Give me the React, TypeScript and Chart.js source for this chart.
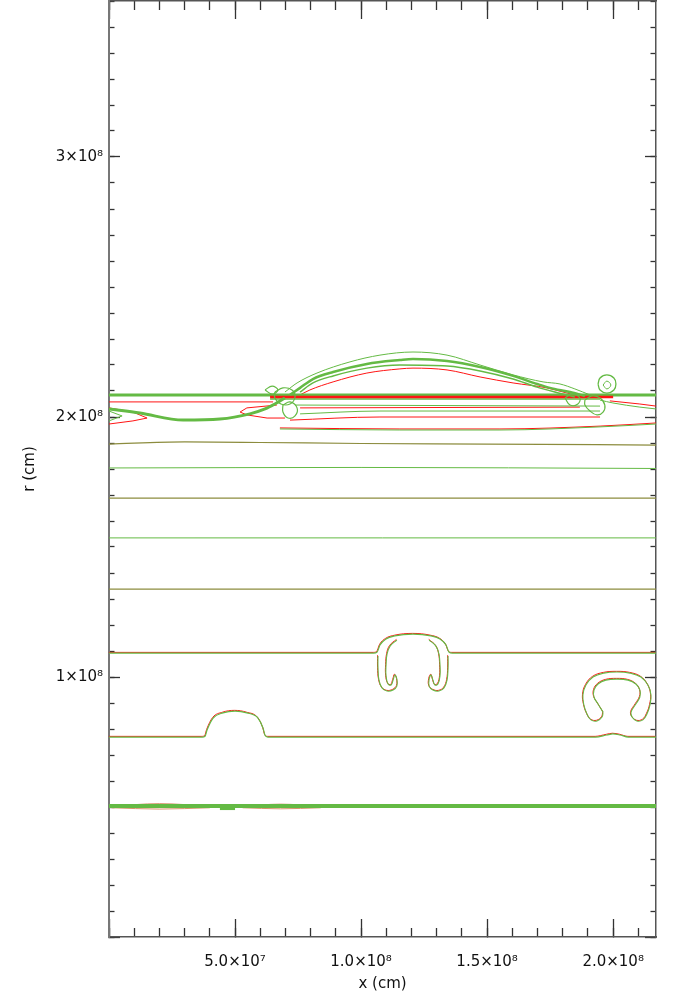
import React, { useEffect, useRef } from 'react';
import { Chart, registerables } from 'chart.js';

Chart.register(...registerables);

type Pt = [number, number];

// ---- axes (values in units of 1e8 cm) ----
const UNIT = 1e8;
const X_MAX = 2.17;
const Y_MAX = 3.6;
const X_MINOR = 0.1;
const Y_MINOR = 0.1;
const X_MAJOR_TICKS = [0, 0.5, 1.0, 1.5, 2.0];
const Y_MAJOR_TICKS = [0, 1, 2, 3];
const X_TICK_VALUES = [0.5, 1.0, 1.5, 2.0];
const X_TICK_LABELS = ['5.0×10⁷', '1.0×10⁸', '1.5×10⁸', '2.0×10⁸'];
const Y_TICK_VALUES = [1, 2, 3];
const Y_TICK_LABELS = ['1×10⁸', '2×10⁸', '3×10⁸'];
const X_TITLE = 'x (cm)';
const Y_TITLE = 'r (cm)';

// ---- contour lines [x, r] in units of 1e8 cm ----
const lvl190: Pt[] = [[0, 1.896], [0.3, 1.904], [0.6, 1.902], [1.0, 1.898], [1.5, 1.896], [2.17, 1.892]];
const lvl180: Pt[] = [[0, 1.804], [1.0, 1.806], [2.17, 1.802]];
const lvl169: Pt[] = [[0, 1.688], [2.17, 1.688]];
const lvl153: Pt[] = [[0, 1.535], [2.17, 1.535]];
const lvl134: Pt[] = [[0, 1.338], [2.17, 1.338]];
const lvl109: Pt[] = [[0, 1.092], [1.05, 1.092], [1.063, 1.095], [1.075, 1.123], [1.099, 1.146], [1.134, 1.158], [1.206, 1.165], [1.277, 1.158], [1.313, 1.146], [1.337, 1.123], [1.349, 1.095], [1.362, 1.092], [2.17, 1.092]];
const armLeft: Pt[] = [[1.142, 1.142], [1.115, 1.119], [1.103, 1.088], [1.099, 1.046], [1.099, 1.004], [1.107, 0.973], [1.119, 0.969], [1.127, 0.988], [1.134, 1.008], [1.142, 0.992], [1.142, 0.965], [1.127, 0.950], [1.103, 0.946], [1.083, 0.958], [1.071, 0.988], [1.067, 1.035], [1.067, 1.081]];
const armRight: Pt[] = [[1.270, 1.142], [1.297, 1.119], [1.309, 1.088], [1.313, 1.046], [1.313, 1.004], [1.305, 0.973], [1.293, 0.969], [1.285, 0.988], [1.278, 1.008], [1.270, 0.992], [1.270, 0.965], [1.285, 0.950], [1.309, 0.946], [1.329, 0.958], [1.341, 0.988], [1.345, 1.035], [1.345, 1.081]];
const mushroomRight: Pt[] = [[1.960, 0.865], [1.940, 0.896], [1.924, 0.923], [1.924, 0.950], [1.940, 0.973], [1.971, 0.988], [2.015, 0.992], [2.059, 0.988], [2.090, 0.973], [2.106, 0.950], [2.106, 0.923], [2.090, 0.896], [2.071, 0.865], [2.075, 0.846], [2.094, 0.831], [2.118, 0.835], [2.134, 0.858], [2.146, 0.892], [2.150, 0.931], [2.138, 0.969], [2.110, 1.000], [2.067, 1.015], [2.015, 1.019], [1.963, 1.015], [1.920, 1.000], [1.892, 0.969], [1.880, 0.931], [1.884, 0.892], [1.896, 0.858], [1.912, 0.835], [1.936, 0.831], [1.956, 0.846], [1.960, 0.865]];
const lvl077: Pt[] = [[0, 0.769], [0.37, 0.769], [0.381, 0.772], [0.389, 0.796], [0.413, 0.842], [0.452, 0.862], [0.5, 0.869], [0.547, 0.862], [0.591, 0.842], [0.611, 0.804], [0.619, 0.776], [0.63, 0.769], [1.93, 0.769], [1.975, 0.777], [1.999, 0.781], [2.027, 0.777], [2.06, 0.769], [2.17, 0.769]];
const lvl050: Pt[] = [[0, 0.504], [2.17, 0.504]];
const lens1Top: Pt[] = [[0.01, 0.503], [0.2, 0.513], [0.4, 0.503]];
const lens1Bot: Pt[] = [[0.01, 0.497], [0.2, 0.492], [0.4, 0.497]];
const lens2Top: Pt[] = [[0.53, 0.503], [0.68, 0.511], [0.84, 0.503]];
const lens2Bot: Pt[] = [[0.53, 0.497], [0.68, 0.493], [0.84, 0.497]];
const blob050: Pt[] = [[0.44, 0.494], [0.5, 0.494]];

// interface region near 2e8
const greenTop: Pt[] = [[0, 2.085], [2.17, 2.085]];
const greenUpper: Pt[] = [[0.639, 2.069], [1.948, 2.069]];
const redTop: Pt[] = [[0.639, 2.077], [2.0, 2.077]];
const greenArcLeft: Pt[] = [[0, 2.031], [0.123, 2.015], [0.294, 1.988], [0.440, 1.992], [0.559, 2.012], [0.619, 2.031], [0.658, 2.050], [0.698, 2.073]];
const greenVLeft: Pt[] = [[0, 2.023], [0.052, 2.004], [0, 1.985]];
const domeOuter: Pt[] = [[0.698, 2.096], [0.746, 2.131], [0.825, 2.169], [0.956, 2.212], [1.075, 2.238], [1.206, 2.250], [1.341, 2.238], [1.472, 2.200], [1.603, 2.162], [1.722, 2.135], [1.789, 2.127], [1.848, 2.108], [1.908, 2.085]];
const domeThick: Pt[] = [[0.718, 2.085], [0.758, 2.112], [0.809, 2.146], [0.889, 2.173], [1.023, 2.204], [1.154, 2.219], [1.206, 2.223], [1.341, 2.215], [1.472, 2.192], [1.603, 2.158], [1.698, 2.127], [1.749, 2.112], [1.829, 2.096], [1.888, 2.081]];
const domeThick2: Pt[] = [[0.758, 2.096], [0.809, 2.131], [0.889, 2.158], [1.023, 2.188], [1.154, 2.200], [1.341, 2.196], [1.472, 2.177], [1.603, 2.146], [1.698, 2.115], [1.769, 2.096], [1.848, 2.077]];
const domeRed: Pt[] = [[0.758, 2.085], [0.797, 2.104], [0.889, 2.135], [1.023, 2.169], [1.154, 2.185], [1.206, 2.188], [1.341, 2.181], [1.472, 2.154], [1.603, 2.131], [1.737, 2.112], [1.817, 2.092], [1.888, 2.077]];
const green405: Pt[] = [[0.738, 2.046], [1.948, 2.042]];
const green411: Pt[] = [[0.758, 2.012], [1.075, 2.023], [1.948, 2.023]];
const green429: Pt[] = [[0.678, 1.954], [1.154, 1.950], [1.551, 1.950], [1.948, 1.962], [2.17, 1.973]];
const greenRight: Pt[] = [[1.948, 2.065], [1.999, 2.054], [2.106, 2.038], [2.17, 2.031]];
const red402: Pt[] = [[0, 2.058], [0.651, 2.058]];
const redVLeft: Pt[] = [[0, 2.035], [0.095, 2.019], [0.151, 1.996], [0.095, 1.985], [0, 1.973]];
const redVRight: Pt[] = [[0.666, 2.046], [0.547, 2.035], [0.520, 2.019], [0.547, 2.008], [0.627, 1.996], [0.698, 1.996]];
const red407: Pt[] = [[0.758, 2.035], [1.868, 2.038]];
const red417: Pt[] = [[0.718, 1.988], [1.075, 2.000], [1.948, 2.000]];
const red429: Pt[] = [[0.678, 1.958], [1.154, 1.954], [1.551, 1.954], [1.948, 1.965], [2.17, 1.977]];
const redRight: Pt[] = [[1.987, 2.062], [2.106, 2.050], [2.17, 2.042]];
const loopA: Pt[] = [[1.940, 2.127], [1.948, 2.150], [1.975, 2.162], [2.003, 2.150], [2.011, 2.127], [2.003, 2.104], [1.975, 2.092], [1.948, 2.104], [1.940, 2.127]];
const loopB: Pt[] = [[1.960, 2.123], [1.975, 2.138], [1.991, 2.123], [1.975, 2.108], [1.960, 2.123]];
const loopC: Pt[] = [[1.888, 2.065], [1.916, 2.081], [1.948, 2.073], [1.967, 2.046], [1.960, 2.019], [1.936, 2.008], [1.908, 2.023], [1.888, 2.046], [1.888, 2.065]];
const loopD: Pt[] = [[1.809, 2.073], [1.837, 2.088], [1.868, 2.073], [1.860, 2.050], [1.829, 2.046], [1.809, 2.073]];
const loopE: Pt[] = [[0.658, 2.096], [0.690, 2.112], [0.726, 2.104], [0.738, 2.077], [0.718, 2.050], [0.682, 2.050], [0.658, 2.073], [0.658, 2.096]];
const loopF: Pt[] = [[0.690, 2.046], [0.718, 2.058], [0.746, 2.035], [0.738, 2.004], [0.710, 1.996], [0.690, 2.019], [0.690, 2.046]];
const loopG: Pt[] = [[0.619, 2.104], [0.647, 2.119], [0.670, 2.104], [0.647, 2.088], [0.619, 2.104]];

const RED = '#ff1414';
const GREEN = '#64ba44';
const OLIVE = 'rgb(140,140,62)';
const LENS = 'rgba(205,120,70,0.8)';

type Kind = 'red' | 'green' | 'both' | 'olive' | 'lens';
interface Contour { pts: Pt[]; kind: Kind; w: number; mode: 'mono' | 'smooth' | 'sharp'; }

// drawing sequence (first = bottom layer)
const CONTOURS: Contour[] = [
  { pts: lens1Top, kind: 'lens', w: 1, mode: 'mono' },
  { pts: lens1Bot, kind: 'lens', w: 1, mode: 'mono' },
  { pts: lens2Top, kind: 'lens', w: 1, mode: 'mono' },
  { pts: lens2Bot, kind: 'lens', w: 1, mode: 'mono' },
  { pts: lvl050, kind: 'green', w: 4, mode: 'mono' },
  { pts: blob050, kind: 'green', w: 3, mode: 'mono' },
  { pts: lvl077, kind: 'both', w: 1.2, mode: 'mono' },
  { pts: lvl109, kind: 'both', w: 1.2, mode: 'mono' },
  { pts: armLeft, kind: 'both', w: 1.1, mode: 'smooth' },
  { pts: armRight, kind: 'both', w: 1.1, mode: 'smooth' },
  { pts: mushroomRight, kind: 'both', w: 1.1, mode: 'smooth' },
  { pts: lvl134, kind: 'olive', w: 1.2, mode: 'mono' },
  { pts: lvl153, kind: 'green', w: 1, mode: 'mono' },
  { pts: lvl169, kind: 'olive', w: 1.2, mode: 'mono' },
  { pts: lvl180, kind: 'green', w: 1, mode: 'mono' },
  { pts: lvl190, kind: 'olive', w: 1.2, mode: 'mono' },
  { pts: red402, kind: 'red', w: 1, mode: 'mono' },
  { pts: redVLeft, kind: 'red', w: 1, mode: 'sharp' },
  { pts: redVRight, kind: 'red', w: 1, mode: 'sharp' },
  { pts: red407, kind: 'red', w: 1, mode: 'mono' },
  { pts: red417, kind: 'red', w: 1, mode: 'mono' },
  { pts: red429, kind: 'red', w: 1, mode: 'mono' },
  { pts: redRight, kind: 'red', w: 1, mode: 'mono' },
  { pts: domeRed, kind: 'red', w: 1, mode: 'mono' },
  { pts: green405, kind: 'green', w: 1, mode: 'mono' },
  { pts: green411, kind: 'green', w: 1, mode: 'mono' },
  { pts: green429, kind: 'green', w: 1, mode: 'mono' },
  { pts: greenRight, kind: 'green', w: 1, mode: 'mono' },
  { pts: greenVLeft, kind: 'green', w: 1, mode: 'sharp' },
  { pts: greenTop, kind: 'green', w: 3, mode: 'mono' },
  { pts: greenUpper, kind: 'green', w: 1.5, mode: 'mono' },
  { pts: redTop, kind: 'red', w: 2.5, mode: 'mono' },
  { pts: greenArcLeft, kind: 'green', w: 3, mode: 'mono' },
  { pts: domeOuter, kind: 'green', w: 1, mode: 'mono' },
  { pts: domeThick2, kind: 'green', w: 1.5, mode: 'mono' },
  { pts: domeThick, kind: 'green', w: 2.5, mode: 'mono' },
  { pts: loopA, kind: 'green', w: 1.3, mode: 'smooth' },
  { pts: loopB, kind: 'green', w: 1, mode: 'smooth' },
  { pts: loopC, kind: 'green', w: 1.2, mode: 'smooth' },
  { pts: loopD, kind: 'green', w: 1.2, mode: 'smooth' },
  { pts: loopE, kind: 'green', w: 1.2, mode: 'smooth' },
  { pts: loopF, kind: 'green', w: 1.2, mode: 'smooth' },
  { pts: loopG, kind: 'green', w: 1.2, mode: 'smooth' },
];

const RED_SHIFT: [number, number] = [-0.4, -0.7];
const FONT = { family: '"DejaVu Sans", sans-serif', size: 15 };

const shiftPlugin = {
  id: 'contourShift',
  beforeDatasetDraw(chart: any, args: any) {
    const ds = chart.data.datasets[args.index];
    if (ds.shift) { chart.ctx.save(); chart.ctx.translate(ds.shift[0], ds.shift[1]); }
  },
  afterDatasetDraw(chart: any, args: any) {
    const ds = chart.data.datasets[args.index];
    if (ds.shift) chart.ctx.restore();
  },
};

function labelFor(values: number[], labels: string[], v: number) {
  const i = values.findIndex((t) => Math.abs(t * UNIT - v) < 1e3);
  return i >= 0 ? labels[i] : '';
}

function minorTicks(max: number, step: number) {
  const out: number[] = [];
  const n = Math.floor(max / step + 1e-6);
  for (let i = 0; i <= n; i++) out.push(Math.round(i * step * 1000) / 1000);
  return out;
}

export default function App() {
  const ref = useRef<HTMLCanvasElement>(null);
  useEffect(() => {
    const canvas = ref.current!;
    const layers: any[] = [];
    const mk = (c: Contour, color: string, shift: [number, number] | null, w: number) => ({
      data: c.pts.map((p) => ({ x: p[0] * UNIT, y: p[1] * UNIT })),
      borderColor: color,
      borderWidth: w,
      showLine: true,
      pointRadius: 0,
      fill: false,
      tension: c.mode === 'smooth' ? 0.4 : 0,
      cubicInterpolationMode: c.mode === 'mono' ? 'monotone' : 'default',
      shift,
      xAxisID: 'x',
      yAxisID: 'y',
    });
    CONTOURS.forEach((c) => {
      if (c.kind === 'both') {
        layers.push(mk(c, RED, RED_SHIFT, 1));
        layers.push(mk(c, GREEN, null, c.w));
      } else if (c.kind === 'red') layers.push(mk(c, RED, null, c.w));
      else if (c.kind === 'olive') layers.push(mk(c, OLIVE, null, c.w));
      else if (c.kind === 'lens') layers.push(mk(c, LENS, null, c.w));
      else layers.push(mk(c, GREEN, null, c.w));
    });
    const n = layers.length;
    layers.forEach((d, i) => { d.order = n - i; });

    const frame = { display: true, color: '#555', width: 1.5 };
    const noFrame = { display: false };
    const gridTicks = (len: number) => ({ drawOnChartArea: false, drawTicks: true, tickLength: len, tickColor: '#333', tickWidth: 1.3 });
    const setTicks = (list: number[]) => (s: any) => { s.ticks = list.map((v) => ({ value: v * UNIT })); };
    const fitH = (h: number) => (s: any) => { s.height = h; s.paddingLeft = 0; s.paddingRight = 0; s.paddingTop = 0; s.paddingBottom = 0; };
    const fitW = (w: number) => (s: any) => { s.width = w; s.paddingLeft = 0; s.paddingRight = 0; s.paddingTop = 0; s.paddingBottom = 0; };
    const xBase = { type: 'linear', min: 0, max: X_MAX * UNIT };
    const yBase = { type: 'linear', min: 0, max: Y_MAX * UNIT };
    const xMinorList = minorTicks(X_MAX, X_MINOR);
    const yMinorList = minorTicks(Y_MAX, Y_MINOR);

    const chart = new Chart(canvas, {
      type: 'scatter',
      data: { datasets: layers },
      options: {
        responsive: false,
        animation: false,
        events: [],
        layout: { padding: { top: 1, right: 19, left: 0, bottom: 0 } },
        plugins: { legend: { display: false }, tooltip: { enabled: false } },
        scales: {
          x: {
            ...xBase, position: 'bottom', weight: 1,
            afterBuildTicks: setTicks(X_MAJOR_TICKS),
            ticks: { autoSkip: false, maxRotation: 0, padding: 34, color: '#111', font: FONT,
              callback: (v: any) => labelFor(X_TICK_VALUES, X_TICK_LABELS, Number(v)) },
            grid: gridTicks(-18),
            border: frame,
            title: { display: true, text: X_TITLE, color: '#111', font: FONT, padding: { top: 0, bottom: 4 } },
            afterFit: fitH(60),
          },
          xMinor: {
            ...xBase, position: 'bottom', weight: 0,
            afterBuildTicks: setTicks(xMinorList),
            ticks: { autoSkip: false, display: false },
            grid: gridTicks(-9), border: noFrame,
            afterFit: fitH(0),
          },
          xTop: {
            ...xBase, position: 'top', weight: 1,
            afterBuildTicks: setTicks(X_MAJOR_TICKS),
            ticks: { autoSkip: false, display: false },
            grid: gridTicks(-18), border: frame,
            afterFit: fitH(0),
          },
          xTopMinor: {
            ...xBase, position: 'top', weight: 0,
            afterBuildTicks: setTicks(xMinorList),
            ticks: { autoSkip: false, display: false },
            grid: gridTicks(-9), border: noFrame,
            afterFit: fitH(0),
          },
          y: {
            ...yBase, position: 'left', weight: 1,
            afterBuildTicks: setTicks(Y_MAJOR_TICKS),
            ticks: { autoSkip: false, padding: 17, color: '#111', font: FONT,
              callback: (v: any) => labelFor(Y_TICK_VALUES, Y_TICK_LABELS, Number(v)) },
            grid: gridTicks(-11),
            border: { ...frame, color: '#777', width: 2 },
            title: { display: true, text: Y_TITLE, color: '#111', font: FONT, padding: { top: 21, bottom: 0 } },
            afterFit: fitW(109),
          },
          yMinor: {
            ...yBase, position: 'left', weight: 0,
            afterBuildTicks: setTicks(yMinorList),
            ticks: { autoSkip: false, display: false },
            grid: gridTicks(-5.5), border: noFrame,
            afterFit: fitW(0),
          },
          yRight: {
            ...yBase, position: 'right', weight: 1,
            afterBuildTicks: setTicks(Y_MAJOR_TICKS),
            ticks: { autoSkip: false, display: false },
            grid: gridTicks(-11), border: frame,
            afterFit: fitW(0),
          },
          yRightMinor: {
            ...yBase, position: 'right', weight: 0,
            afterBuildTicks: setTicks(yMinorList),
            ticks: { autoSkip: false, display: false },
            grid: gridTicks(-5.5), border: noFrame,
            afterFit: fitW(0),
          },
        },
      } as any,
      plugins: [shiftPlugin as any],
    });
    return () => chart.destroy();
  }, []);

  return (
    <div style={{ position: 'absolute', left: 0, top: 0, width: 675, height: 997, background: '#fff' }}>
      <canvas ref={ref} width={675} height={997} style={{ display: 'block', width: 675, height: 997 }} />
    </div>
  );
}
